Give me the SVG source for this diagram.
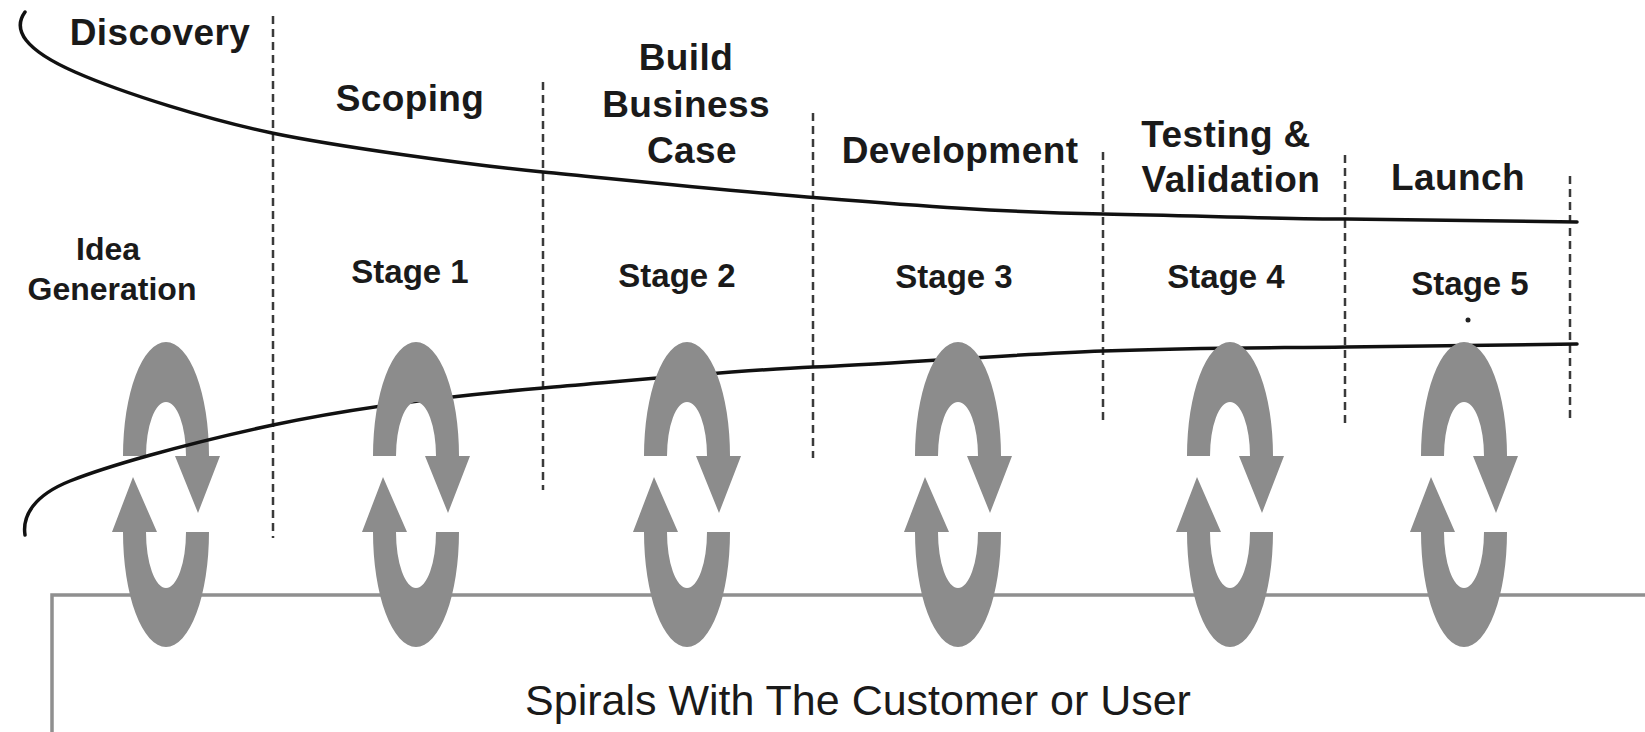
<svg xmlns="http://www.w3.org/2000/svg" xmlns:xlink="http://www.w3.org/1999/xlink" width="1645" height="732" viewBox="0 0 1645 732">
<style>
.hdr{font-family:"Liberation Sans",Arial,sans-serif;font-weight:bold;font-size:37px;fill:#1a1a1a;text-anchor:middle;letter-spacing:0.4px}
.stg{font-family:"Liberation Sans",Arial,sans-serif;font-weight:bold;font-size:33px;fill:#1a1a1a;text-anchor:middle}
.idea{font-family:"Liberation Sans",Arial,sans-serif;font-weight:bold;font-size:32px;fill:#1a1a1a;text-anchor:middle}
.foot{font-family:"Liberation Sans",Arial,sans-serif;font-size:43px;fill:#1a1a1a;text-anchor:middle}
.dash{stroke:#3a3a3a;stroke-width:2.5;stroke-dasharray:8 5;fill:none}
.curve{stroke:#111;stroke-width:3.5;fill:none;stroke-linecap:round}
.spiral{fill:#8c8c8c}
</style>
<defs>
<g id="spiral">
<path class="spiral" d="M-43,456 A43,114 0 0 1 43,456 L54,456 L32,513 L9,456 L20,456 A20,54 0 0 0 -20,456 Z"/>
<path class="spiral" d="M43,532 A43,115 0 0 1 -43,532 L-54,532 L-33,477 L-9,532 L-20,532 A20,56 0 0 0 20,532 Z"/>
</g>
</defs>
<rect width="1645" height="732" fill="#ffffff"/>
<g id="customer-box">
<rect x="52" y="595" width="1700" height="200" fill="none" stroke="#8f8f8f" stroke-width="3.5"/>
<text class="foot" x="858" y="715">Spirals With The Customer or User</text>
</g>
<g id="dividers">
<line class="dash" x1="273" y1="16" x2="273" y2="538"/>
<line class="dash" x1="543" y1="82" x2="543" y2="490"/>
<line class="dash" x1="813" y1="113" x2="813" y2="458"/>
<line class="dash" x1="1103" y1="152" x2="1103" y2="425"/>
<line class="dash" x1="1345" y1="155" x2="1345" y2="425"/>
<line class="dash" x1="1570" y1="176" x2="1570" y2="418"/>
</g>
<g id="spiral-idea"><use xlink:href="#spiral" href="#spiral" x="166"/></g>
<g id="connectors">
<path class="curve" d="M25,12 C12,30 25,50 75,72 S210,120 272,133 S470,165 543,172 S720,190 820,198 S1000,212 1103,214 S1280,219 1346,219 L1577,222"/>
<path class="curve" d="M25,535 C22,515 35,495 70,481 C105,467 180,445 273,425 S460,395 543,388 S740,370 813,367 S1000,355 1103,351 S1280,348 1346,347 L1577,344"/>
</g>
<g id="spiral-stage1"><use xlink:href="#spiral" href="#spiral" x="416"/></g>
<g id="spiral-stage2"><use xlink:href="#spiral" href="#spiral" x="687"/></g>
<g id="spiral-stage3"><use xlink:href="#spiral" href="#spiral" x="958"/></g>
<g id="spiral-stage4"><use xlink:href="#spiral" href="#spiral" x="1230"/></g>
<g id="spiral-stage5"><use xlink:href="#spiral" href="#spiral" x="1464"/></g>
<g id="discovery"><text class="hdr" x="160" y="45">Discovery</text>
<text class="idea" x="108" y="260">Idea</text><text class="idea" x="112" y="300">Generation</text></g>
<g id="scoping"><text class="hdr" x="410" y="111">Scoping</text><text class="stg" x="410" y="283">Stage 1</text></g>
<g id="business-case"><text class="hdr" x="686" y="70">Build</text><text class="hdr" x="686" y="117">Business</text><text class="hdr" x="692" y="163">Case</text><text class="stg" x="677" y="287">Stage 2</text></g>
<g id="development"><text class="hdr" x="960" y="163">Development</text><text class="stg" x="954" y="288">Stage 3</text></g>
<g id="testing"><text class="hdr" x="1226" y="147">Testing &amp;</text><text class="hdr" x="1231" y="192">Validation</text><text class="stg" x="1226" y="288">Stage 4</text></g>
<g id="launch"><text class="hdr" x="1458" y="190">Launch</text><text class="stg" x="1470" y="295">Stage 5</text><circle cx="1468" cy="320" r="2.5" fill="#222"/></g>
</svg>
